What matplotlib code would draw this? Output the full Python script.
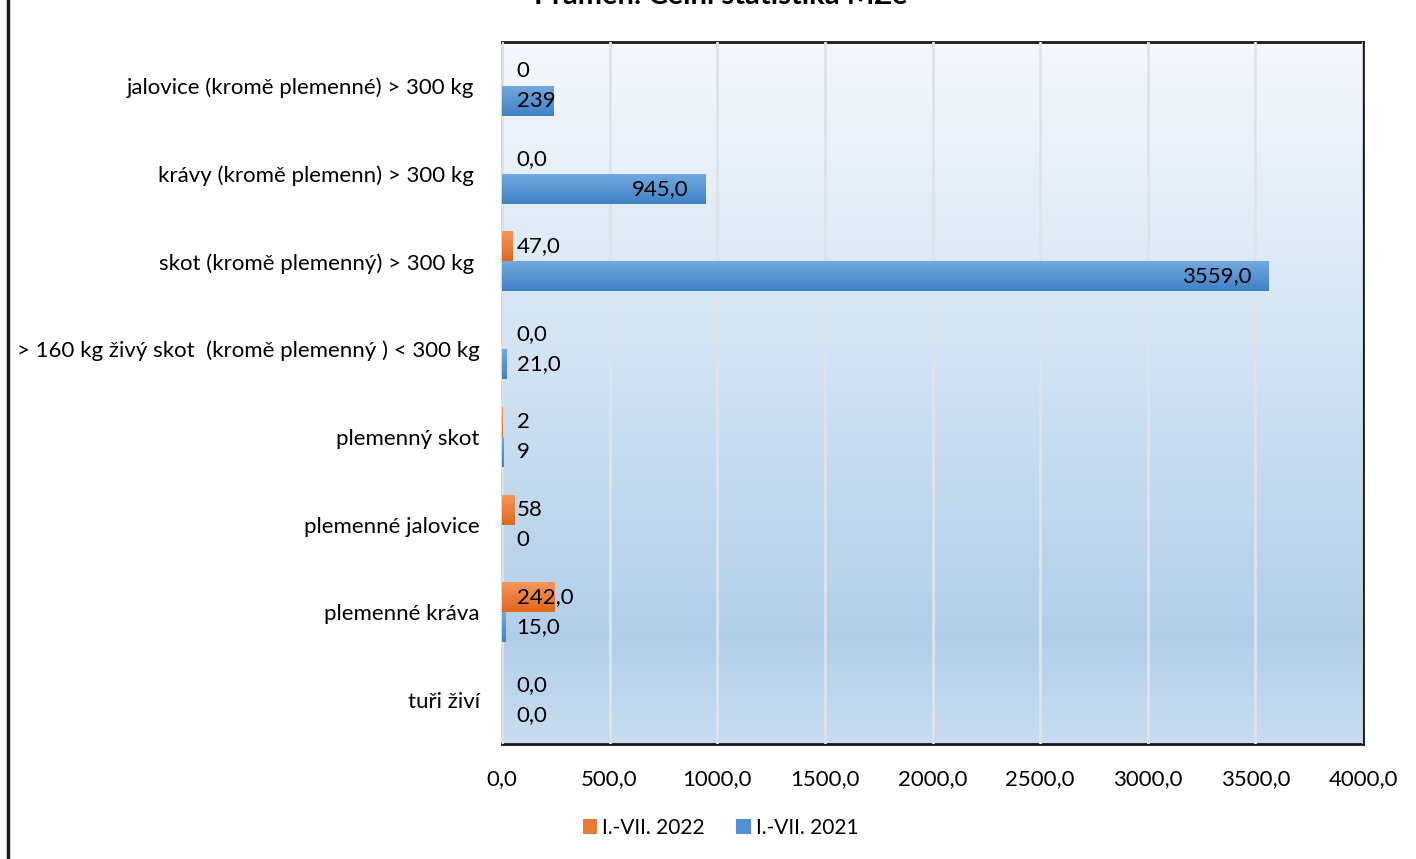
import numpy as np
import matplotlib.pyplot as plt
from matplotlib.colors import LinearSegmentedColormap
from matplotlib.lines import Line2D
from matplotlib.patches import Patch

plt.rcParams['font.family'] = ['Lato', 'DejaVu Sans']

categories = ['jalovice (kromě plemenné) > 300 kg ',
              'krávy (kromě plemenn) > 300 kg ',
              'skot (kromě plemenný) > 300 kg ',
              '> 160 kg živý skot  (kromě plemenný ) < 300 kg',
              'plemenný skot',
              'plemenné jalovice',
              'plemenné kráva',
              'tuři živí']
vals_2022 = [0, 0, 47, 0, 2, 58, 242, 0]
vals_2021 = [239, 945, 3559, 21, 9, 0, 15, 0]
labels_2022 = ['0', '0,0', '47,0', '0,0', '2', '58', '242,0', '0,0']
labels_2021 = ['239', '945,0', '3559,0', '21,0', '9', '0', '15,0', '0,0']
series_names = ['I.-VII. 2022', 'I.-VII. 2021']
xticks = [0, 500, 1000, 1500, 2000, 2500, 3000, 3500, 4000]

fig = plt.figure(figsize=(14.16, 8.59), dpi=100)
ax = fig.add_axes([0.3545, 0.1339, 0.6081, 0.8172])

# plot area gradient background
bg = LinearSegmentedColormap.from_list('bg', [(0, '#f5f8fc'), (0.45, '#d2e3f3'),
                                              (0.85, '#b1cee9'), (1, '#c9ddf0')])
grad = np.linspace(0, 1, 256).reshape(-1, 1)
ax.imshow(grad, extent=[0, 4000, 7.5, -0.5], aspect='auto', cmap=bg, zorder=0)

y = np.arange(len(categories))
h = 0.342
bars_o = ax.barh(y - h / 2, vals_2022, height=h, color='#ea7a33', zorder=3)
bars_b = ax.barh(y + h / 2, vals_2021, height=h, color='#5596d4', zorder=3)

cm_o = LinearSegmentedColormap.from_list('o', ['#f59a5e', '#e0661a'])
cm_b = LinearSegmentedColormap.from_list('b', ['#75aadf', '#3d82c6'])
for bars, cm in [(bars_o, cm_o), (bars_b, cm_b)]:
    for b in bars:
        if b.get_width() <= 0:
            continue
        x0, y0 = b.get_x(), b.get_y()
        im = ax.imshow(grad, extent=[x0, x0 + b.get_width(), y0 + h, y0],
                       aspect='auto', cmap=cm, zorder=3.5)
        im.set_clip_path(b)

# data labels
for bars, labs in [(bars_o, labels_2022), (bars_b, labels_2021)]:
    for b, t in zip(bars, labs):
        yc = b.get_y() + h / 2
        w = b.get_width()
        if w > 500:
            ax.annotate(t, xy=(w, yc), xytext=(-12, 0), textcoords='offset points',
                        ha='right', va='center', fontsize=16, zorder=5)
        else:
            ax.annotate(t, xy=(0, yc), xytext=(10.5, 0), textcoords='offset points',
                        ha='left', va='center', fontsize=16, zorder=5)

ax.set_xlim(0, 4000)
ax.set_ylim(7.5, -0.5)
ax.set_xticks(xticks)
ax.set_xticklabels([f'{v:.1f}'.replace('.', ',') for v in xticks], fontsize=16)
ax.set_yticks(y)
ax.set_yticklabels(categories, fontsize=16)
ax.tick_params(axis='both', length=0)
ax.tick_params(axis='x', pad=18)
ax.tick_params(axis='y', pad=16)
ax.grid(axis='x', color='#dde3ea', linewidth=2, zorder=1)
ax.set_axisbelow(False)
for gl in ax.get_xgridlines():
    gl.set_zorder(1)
for s in ['top', 'right', 'bottom']:
    ax.spines[s].set_color('#1a1a1a')
    ax.spines[s].set_linewidth(2)
ax.spines['left'].set_color('#d0d4d8')
ax.spines['left'].set_linewidth(2)

fig.text(0.509, 0.995, 'Pramen: Celní statistika MZe', ha='center', va='baseline',
         fontsize=21, fontweight='bold')

handles = [Patch(facecolor='#ea7a33'), Patch(facecolor='#4f91d2')]
fig.legend(handles, series_names, loc='center', bbox_to_anchor=(0.509, 0.036), ncol=2,
           frameon=False, fontsize=15, handlelength=0.7, handleheight=0.7,
           handletextpad=0.25, columnspacing=1.5)

fig.add_artist(Line2D([0.006, 0.006], [0, 1], color='#1a1a1a', linewidth=2.5))

fig.savefig('out.png', dpi=100)
